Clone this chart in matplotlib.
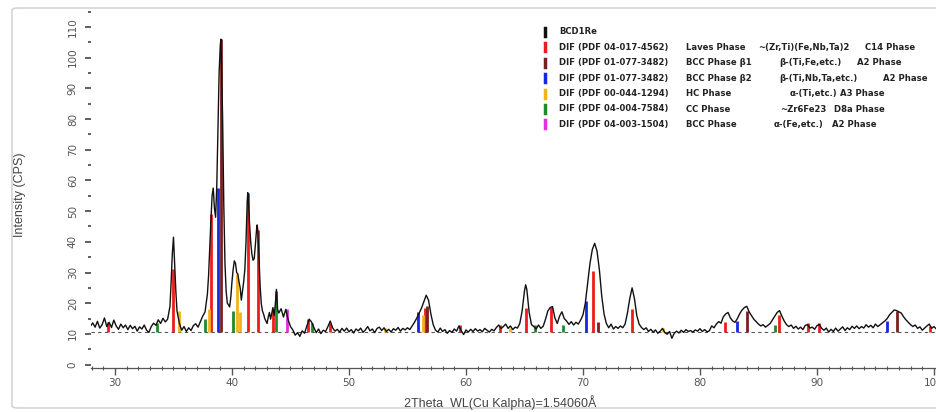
import matplotlib
matplotlib.use("Agg")
import matplotlib.pyplot as plt
from matplotlib.lines import Line2D
from matplotlib.patches import FancyBboxPatch

# measured pattern (2theta, counts per second)
two_theta = [
    27.9, 28.1, 28.3, 28.5, 28.7, 28.9, 29.1, 29.3, 29.5, 29.7,
    29.9, 30.1, 30.3, 30.5, 30.7, 30.9, 31.1, 31.3, 31.5, 31.7,
    31.9, 32.1, 32.3, 32.5, 32.7, 32.9, 33.1, 33.3, 33.5, 33.7,
    33.9, 34.1, 34.3, 34.5, 34.7, 34.8, 34.9, 35.0, 35.1, 35.2,
    35.3, 35.5, 35.7, 35.9, 36.1, 36.3, 36.5, 36.7, 36.9, 37.1,
    37.3, 37.5, 37.7, 37.9, 38.0, 38.1, 38.2, 38.3, 38.4, 38.5,
    38.6, 38.7, 38.8, 38.9, 39.0, 39.05, 39.1, 39.2, 39.3, 39.4,
    39.5, 39.6, 39.7, 39.8, 39.9, 40.0, 40.1, 40.2, 40.3, 40.4,
    40.5, 40.6, 40.7, 40.8, 40.9, 41.0, 41.1, 41.2, 41.3, 41.35,
    41.4, 41.5, 41.6, 41.7, 41.8, 41.9, 42.0, 42.1, 42.15, 42.2,
    42.3, 42.4, 42.5, 42.6, 42.7, 42.8, 42.9, 43.0, 43.1, 43.2,
    43.3, 43.5, 43.6, 43.7, 43.8, 43.9, 44.0, 44.2, 44.4, 44.6,
    44.8, 45.0, 45.2, 45.4, 45.6, 45.8, 46.0, 46.2, 46.4, 46.6,
    46.8, 47.0, 47.2, 47.4, 47.6, 47.8, 48.0, 48.2, 48.4, 48.6,
    48.8, 49.0, 49.2, 49.4, 49.6, 49.8, 50.0, 50.2, 50.4, 50.6,
    50.8, 51.0, 51.2, 51.4, 51.6, 51.8, 52.0, 52.2, 52.4, 52.6,
    52.8, 53.0, 53.2, 53.4, 53.6, 53.8, 54.0, 54.2, 54.4, 54.6,
    54.8, 55.0, 55.2, 55.4, 55.6, 55.8, 56.0, 56.2, 56.4, 56.6,
    56.8, 57.0, 57.2, 57.4, 57.6, 57.8, 58.0, 58.2, 58.4, 58.6,
    58.8, 59.0, 59.2, 59.4, 59.6, 59.8, 60.0, 60.2, 60.4, 60.6,
    60.8, 61.0, 61.2, 61.4, 61.6, 61.8, 62.0, 62.2, 62.4, 62.6,
    62.8, 63.0, 63.2, 63.4, 63.6, 63.8, 64.0, 64.2, 64.4, 64.6,
    64.8, 65.0, 65.1, 65.2, 65.4, 65.6, 65.8, 66.0, 66.2, 66.4,
    66.6, 66.8, 67.0, 67.2, 67.4, 67.6, 67.8, 68.0, 68.2, 68.4,
    68.6, 68.8, 69.0, 69.2, 69.4, 69.6, 69.8, 70.0, 70.2, 70.4,
    70.6, 70.8, 71.0, 71.2, 71.4, 71.6, 71.8, 72.0, 72.2, 72.4,
    72.6, 72.8, 73.0, 73.2, 73.4, 73.6, 73.8, 74.0, 74.2, 74.4,
    74.6, 74.8, 75.0, 75.2, 75.4, 75.6, 75.8, 76.0, 76.2, 76.4,
    76.6, 76.8, 77.0, 77.2, 77.4, 77.6, 77.8, 78.0, 78.2, 78.4,
    78.6, 78.8, 79.0, 79.2, 79.4, 79.6, 79.8, 80.0, 80.2, 80.4,
    80.6, 80.8, 81.0, 81.2, 81.4, 81.6, 81.8, 82.0, 82.2, 82.4,
    82.6, 82.8, 83.0, 83.2, 83.4, 83.6, 83.8, 84.0, 84.2, 84.4,
    84.6, 84.8, 85.0, 85.2, 85.4, 85.6, 85.8, 86.0, 86.2, 86.4,
    86.6, 86.8, 87.0, 87.2, 87.4, 87.6, 87.8, 88.0, 88.2, 88.4,
    88.6, 88.8, 89.0, 89.2, 89.4, 89.6, 89.8, 90.0, 90.2, 90.4,
    90.6, 90.8, 91.0, 91.2, 91.4, 91.6, 91.8, 92.0, 92.2, 92.4,
    92.6, 92.8, 93.0, 93.2, 93.4, 93.6, 93.8, 94.0, 94.2, 94.4,
    94.6, 94.8, 95.0, 95.2, 95.4, 95.6, 95.8, 96.0, 96.2, 96.4,
    96.6, 96.8, 97.0, 97.2, 97.4, 97.6, 97.8, 98.0, 98.2, 98.4,
    98.6, 98.8, 99.0, 99.2, 99.4, 99.6, 99.8, 100.0, 100.2, 100.4,
]
cps = [
    12.5, 13.6, 12.2, 14.1, 11.9, 13.0, 15.2, 12.4, 13.8, 12.1,
    14.5, 12.6, 11.5, 13.2, 12.0, 12.9, 11.4, 12.8, 11.7, 12.5,
    10.9, 12.3, 11.6, 12.9, 11.2, 10.5, 12.4, 13.5, 12.8, 14.6,
    13.4, 15.1, 13.9, 14.8, 19.0, 27.0, 36.0, 41.5, 33.0, 24.0,
    17.5, 13.5, 11.2, 12.4, 10.8, 12.0, 11.1, 12.7, 13.3, 12.2,
    14.0, 15.8, 17.2, 23.0, 29.0, 38.0, 47.0, 55.0, 57.5, 51.0,
    48.0, 58.0, 76.0, 95.0, 104.0, 106.0, 99.0, 80.0, 52.0, 33.0,
    24.0, 20.0, 19.5, 18.8, 22.0, 27.0, 31.0, 33.8, 33.0, 30.0,
    29.5, 27.0, 25.0, 21.0, 24.0, 27.0, 31.0, 40.0, 53.0, 56.0,
    54.0, 46.0, 40.0, 36.0, 34.0, 34.5, 39.0, 44.0, 45.5, 44.0,
    36.0, 26.0, 20.0, 17.5, 16.5, 15.0, 14.2, 13.4, 15.5, 17.0,
    14.8, 18.6, 16.0, 19.5, 24.5, 18.0, 16.8, 18.2, 15.5, 18.0,
    14.6, 12.4, 11.3, 9.6, 10.4, 9.2, 11.0, 10.2, 12.6, 14.8,
    13.9, 12.1, 10.4, 11.6, 10.1, 11.2, 10.8, 12.4, 14.2, 12.0,
    10.9, 11.5, 10.6, 11.8, 10.9, 11.9, 10.7, 11.4, 10.3, 11.6,
    11.0, 11.9, 10.5, 11.3, 12.4, 11.0, 11.6, 10.4, 11.8, 12.2,
    11.1, 12.0, 10.8, 11.5, 10.6, 11.7, 11.2, 12.1, 10.9, 11.8,
    11.3, 12.0, 11.4, 12.6, 13.8, 15.2, 16.8, 18.4, 20.5, 22.6,
    21.0, 16.5, 13.0, 11.2, 10.6, 11.9, 10.8, 11.4, 10.2, 11.1,
    10.5, 11.6, 10.9, 12.6, 11.0, 9.8, 11.3, 10.6, 11.5, 10.8,
    11.7, 10.9, 11.4, 10.7, 11.8, 11.2, 10.6, 11.5, 11.0, 12.1,
    12.9, 11.7, 12.4, 13.2, 11.8, 12.6, 11.4, 12.2, 11.9, 13.4,
    17.5, 24.0, 26.0, 24.5, 17.0, 13.0, 12.4, 11.6, 12.9, 11.8,
    12.5, 14.8, 17.5, 18.6, 18.9, 15.2, 13.4, 15.8, 17.2, 15.0,
    14.2, 13.1, 14.0, 12.9, 13.8, 13.2, 14.5, 16.2, 20.0, 26.5,
    33.0, 37.5, 39.5, 37.0, 31.0, 22.5, 16.5, 13.4, 12.0, 13.2,
    11.6, 12.4, 11.8, 12.6, 12.0, 13.2, 16.8, 21.5, 25.0, 21.5,
    16.0, 13.2, 12.1, 11.4, 12.0, 10.8, 11.5, 10.6, 11.3, 10.2,
    10.9, 11.8, 10.4, 9.9, 10.8, 8.6, 10.2, 10.9, 10.3, 11.2,
    10.5, 11.4, 10.8, 11.1, 10.6, 11.3, 10.9, 11.7, 10.8, 11.4,
    10.7, 11.0, 12.6, 12.0, 13.2, 14.0, 13.5, 15.6, 16.5, 17.0,
    15.2, 14.2, 13.8, 15.0, 16.6, 17.8, 18.6, 19.0, 17.2, 16.0,
    14.8, 14.0, 13.2, 12.6, 13.0, 12.2, 12.8, 13.4, 14.6, 15.8,
    17.0, 17.6, 15.8, 14.2, 13.0, 12.4, 12.9, 11.8, 12.5, 11.6,
    12.2, 11.4, 12.8, 13.0, 11.9, 12.2, 11.5, 12.7, 13.1, 11.8,
    11.2, 11.9, 10.6, 11.5, 10.8, 11.9, 10.9, 11.6, 12.3, 11.1,
    12.0, 11.4, 12.5, 11.8, 12.6, 11.7, 12.4, 11.9, 13.0, 12.2,
    12.8, 12.0, 13.2, 12.4, 13.0, 13.6, 14.2, 15.0, 16.2, 17.0,
    17.8, 17.6, 17.2, 16.8, 15.6, 14.6, 13.8, 13.0, 12.4, 12.9,
    11.8, 12.3, 11.2, 11.9, 12.6, 13.2, 11.8, 12.4, 11.6, 12.0,
]
background = 10.5

# reference sticks for each phase card (position, height)
laves_pos = [29.4, 35.0, 38.2, 41.34, 42.2, 43.5, 46.5, 48.4, 56.5, 59.5, 62.9, 65.1, 67.3, 70.9, 74.15, 82.1, 86.75, 89.2, 90.2, 99.65]
laves_h = [14.0, 31.0, 49.0, 56.0, 44.0, 17.5, 15.0, 13.7, 18.5, 13.0, 13.0, 18.5, 18.8, 30.4, 18.0, 14.0, 16.0, 13.5, 13.5, 12.5]
beta1_pos = [39.06, 56.7, 71.3, 84.0, 96.8]
beta1_h = [106.0, 19.0, 14.0, 17.5, 17.5]
beta2_pos = [38.77, 55.9, 70.26, 83.2, 95.95]
beta2_h = [57.4, 17.0, 20.7, 14.2, 14.2]
hc_pos = [35.5, 38.05, 40.4, 40.7, 53.1, 56.3, 63.8, 76.85]
hc_h = [17.5, 18.0, 29.5, 17.0, 12.0, 16.0, 12.0, 12.0]
cc_pos = [33.6, 37.7, 40.06, 43.8, 46.8, 65.9, 68.3, 86.4]
cc_h = [13.5, 15.0, 17.5, 24.0, 13.5, 13.0, 13.0, 13.0]
alpha_pos = [44.66]
alpha_h = [18.0]

legend_colors = ["#111111", "#ee1c1c", "#7a1f1f", "#1428e0", "#f2b21a", "#1f8a2a", "#e030e0"]
legend_rows = [
    ["BCD1Re", "", "", ""],
    ["DIF (PDF 04-017-4562)", "Laves Phase", "~(Zr,Ti)(Fe,Nb,Ta)2", "C14 Phase"],
    ["DIF (PDF 01-077-3482)", "BCC Phase \u03b21", "\u03b2-(Ti,Fe,etc.)", "A2 Phase"],
    ["DIF (PDF 01-077-3482)", "BCC Phase \u03b22", "\u03b2-(Ti,Nb,Ta,etc.)", "A2 Phase"],
    ["DIF (PDF 00-044-1294)", "HC Phase", "\u03b1-(Ti,etc.)", "A3 Phase"],
    ["DIF (PDF 04-004-7584)", "CC Phase", "~Zr6Fe23", "D8a Phase"],
    ["DIF (PDF 04-003-1504)", "BCC Phase", "\u03b1-(Fe,etc.)", "A2 Phase"],
]
col3_x = [0, 758, 779, 779, 790, 780, 774]
col4_x = [0, 865, 857, 883, 840, 834, 832]

W, H = 937, 412
fig = plt.figure(figsize=(W / 100, H / 100), dpi=100)
fig.patch.set_facecolor("white")

# outer grey frame
frame = FancyBboxPatch((12 / W, 4 / H), 940 / W, 400 / H, boxstyle="round,pad=0,rounding_size=0.006",
                       transform=fig.transFigure, facecolor="none", edgecolor="#d4d4d4", lw=1.2, zorder=-1)
fig.patches.append(frame)

ax = fig.add_axes([91 / W, (H - 368) / H, (W - 91) / W, (368 - 6) / H])
ax.set_facecolor("none")

ax.axhline(background, color="#555555", lw=0.8, ls=(0, (3, 3)), zorder=1)

phases = [(laves_pos, laves_h, legend_colors[1]), (beta1_pos, beta1_h, legend_colors[2]),
          (beta2_pos, beta2_h, legend_colors[3]), (hc_pos, hc_h, legend_colors[4]),
          (cc_pos, cc_h, legend_colors[5]), (alpha_pos, alpha_h, legend_colors[6])]
for pos, hts, col in phases:
    ax.vlines(pos, background, hts, colors=col, lw=2.0, zorder=3)

ax.plot(two_theta, cps, color="#111111", lw=1.0, zorder=4)

ax.set_xlim(27.95, 100.26)
ax.set_ylim(-1.1, 116.8)

ax.set_xticks(range(30, 101, 10))
ax.set_xticks(range(28, 101, 1), minor=True)
ax.set_yticks(range(0, 111, 10))
ax.set_yticks(range(5, 116, 10), minor=True)

for s in ["top", "right", "left"]:
    ax.spines[s].set_visible(False)
ax.spines["bottom"].set_color("#555555")
ax.spines["bottom"].set_linewidth(0.9)

ax.tick_params(axis="x", which="major", direction="out", length=5, width=1.0, color="#555555",
               labelsize=7.5, labelcolor="#555555", pad=2)
ax.tick_params(axis="x", which="minor", direction="inout", length=3, width=0.8, color="#555555")
ax.tick_params(axis="y", which="major", direction="out", length=4.5, width=1.2, color="#444444",
               labelsize=7.5, labelcolor="#555555", pad=5)
ax.tick_params(axis="y", which="minor", direction="out", length=2.5, width=1.2, color="#444444")
for lab in ax.get_yticklabels():
    lab.set_rotation(90)
    lab.set_va("center")
for lab in ax.get_xticklabels() + ax.get_yticklabels():
    lab.set_family(["Liberation Sans Narrow", "DejaVu Sans"])

fig.text(20 / W, 1 - 195 / H, "Intensity (CPS)", rotation=90, ha="center", va="center",
         fontsize=9, color="#444444", family=["Liberation Sans", "DejaVu Sans"])
fig.text(500 / W, 1 - 403 / H, "2Theta  WL(Cu Kalpha)=1.54060\u00c5", ha="center", va="center",
         fontsize=9, color="#444444", family=["Liberation Sans", "DejaVu Sans"])

# phase legend
for i, row in enumerate(legend_rows):
    yp = 1 - (32 + 15.4 * i) / H
    fig.add_artist(Line2D([545 / W, 545 / W], [yp - 4 / H, yp + 4 / H], color=legend_colors[i],
                          lw=2.5, transform=fig.transFigure))
    xs = [559, 686, col3_x[i], col4_x[i]]
    for x, t in zip(xs, row):
        if t:
            fig.text(x / W, yp, t, ha="left", va="center", fontsize=6.1, fontweight="bold",
                     color="#222222", family=["Liberation Sans Narrow", "DejaVu Sans"])

fig.savefig("out.png", dpi=100)
